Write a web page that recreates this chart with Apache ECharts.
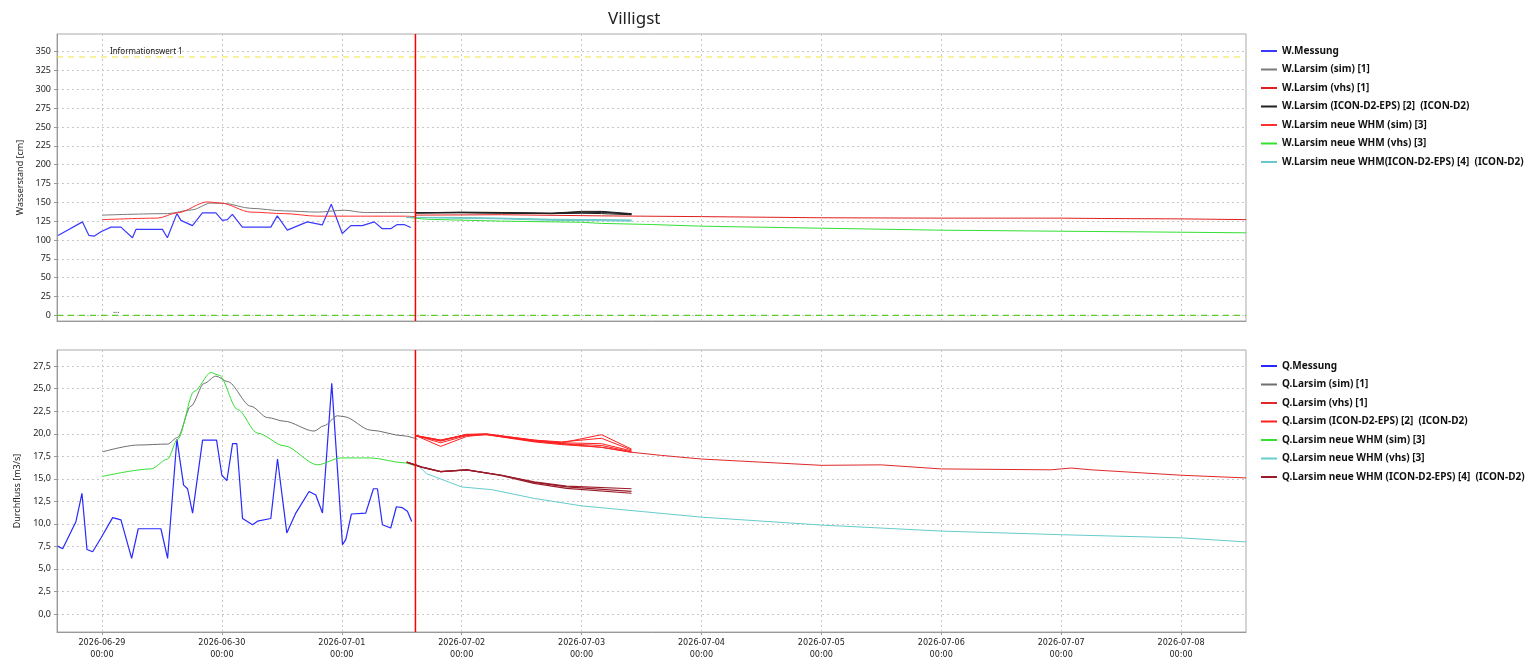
<!DOCTYPE html>
<html>
<head>
<meta charset="utf-8">
<title>Villigst</title>
<script src="https://cdn.jsdelivr.net/npm/echarts@6/dist/echarts.min.js"></script>
<style>
html,body{margin:0;padding:0;background:#fff;}
#chart{width:1540px;height:661px;}
</style>
</head>
<body>
<div id="chart"></div>
<script>
// Zeitachse: Stunden ab 2026-06-29 00:00
var T0 = new Date(2026, 5, 29, 0, 0).getTime();
var X_MIN_H = -9, X_MAX_H = 229;
var FORECAST_H = 62.75;
var DAY_TICKS_H = [0, 24, 48, 72, 96, 120, 144, 168, 192, 216];
var W_MIN = -7.6, W_MAX = 373.5;
var Q_MIN = -2, Q_MAX = 29.3;
var W_TICKS = [0, 25, 50, 75, 100, 125, 150, 175, 200, 225, 250, 275, 300, 325, 350];
var Q_TICKS = [0, 2.5, 5, 7.5, 10, 12.5, 15, 17.5, 20, 22.5, 25, 27.5];
var INFO_WERT_1 = 343;
var NULL_WERT = 0;

// Wasserstand [cm]  -  [stunde, wert]
var wMessung = [[-8.8,106],[-3.9,124],[-2.6,106],[-1.6,105],[-0.2,111],[1.8,117],[3.8,117],[6.1,103],[6.8,114],[12.1,114],[13.1,103],[15,135],[15.8,126],[18.1,119],[20.1,136],[22.8,136],[24.1,126],[25.1,127],[26.1,134],[28.1,117],[33.8,117],[35.1,132],[37.1,113],[41.1,124],[44.1,120],[45.9,147.5],[48.1,108.6],[49.8,119],[52.1,119],[54.5,124],[56.1,115],[57.8,115],[59.1,120.5],[60.5,120.5],[61.8,116.5]];
var wSim1 = [[0.1,133],[13.1,135],[18,140],[21.8,149],[24.5,148.5],[29.8,142],[36.5,138.6],[43.1,137],[48.5,139.5],[52.5,136.5],[62.8,136.5]];
var wVhs1 = [[62.8,133],[80,133.5],[100,132],[120,131],[144,129.5],[168,129],[192,129],[200,128.5],[216,128],[229,127]];
var wEps2 = [
  [[62.8,136],[72,136.5],[80,136],[90,135.5],[96,137],[100,137.5],[106,134]],
  [[62.8,136],[72,136],[80,135.5],[90,135],[96,135.5],[100,135],[106,133.5]],
  [[62.8,136],[72,136.5],[80,136],[90,135],[96,136],[100,136.5],[106,134.5]],
  [[62.8,136],[72,137],[80,136.5],[90,135.5],[96,138],[100,138],[106,135]]
];
var wNeueSim3 = [[0.1,127],[11.1,129],[15.1,136],[21.1,150.6],[23.8,149],[29.8,137],[36.5,135],[43.1,131.6],[60.5,131.6],[62.8,131]];
var wNeueVhs3 = [[61,130],[65,127.5],[80,125],[96,123.5],[100,122],[110,120.5],[120,118.3],[144,115.6],[168,113],[192,111.6],[216,110.3],[229,109.5]];
var wNeueEps4 = [
  [[61,130],[70,129.5],[80,128.5],[90,127],[100,126.5],[106,126]],
  [[61,130],[70,129],[80,128],[90,126],[100,125.5],[106,125]],
  [[61,130],[70,130],[80,129],[90,127.5],[100,127],[106,126.5]]
];

// Durchfluss [m3/s]
var qMessung = [[-8.86,7.53],[-7.86,7.24],[-5.2,10.27],[-4,13.4],[-3,7.16],[-1.86,6.9],[-0.2,8.44],[2.14,10.7],[3.8,10.45],[5.94,6.17],[7.26,9.46],[11.8,9.46],[13.14,6.17],[15,19.4],[16.34,14.3],[17.14,13.9],[18.14,11.2],[20.14,19.3],[22.94,19.3],[24,15.4],[25,14.8],[26.14,18.9],[27,18.9],[28.14,10.6],[30.14,9.9],[31.14,10.3],[33.8,10.6],[35.14,17.2],[37,9.0],[38.8,11.2],[41.46,13.6],[42.8,13.2],[44.14,11.2],[46,25.6],[48.14,7.7],[48.8,8.26],[49.94,11.1],[52.8,11.2],[54.34,13.9],[55.14,13.9],[56.14,9.9],[57.8,9.54],[58.94,11.9],[60.14,11.8],[61.14,11.4],[62,10.27]];
var qSim1 = [[0.14,18.0],[7.14,18.75],[13.14,18.86],[15.14,19.6],[17.8,23.06],[20.46,25.6],[22.8,26.4],[25.14,25.8],[29.8,23.06],[33.14,21.8],[36.46,21.4],[42.46,20.3],[44.46,20.9],[47.14,22.0],[48.46,21.9],[53.8,20.4],[60.46,19.77],[63.14,19.4]];
var qVhs1 = [[62.8,19.8],[67.8,19.3],[73,19.9],[77,19.95],[86.5,19.2],[92,18.9],[100,18.5],[106,17.95],[112,17.6],[120,17.2],[144,16.5],[156,16.55],[168,16.1],[190,16.0],[194,16.2],[198,16.0],[216,15.4],[229,15.1]];
var qEps2 = [
  [[62.8,19.8],[67.8,19.2],[73,19.95],[77,19.95],[86.5,19.3],[92,19.0],[100,19.9],[106,18.3]],
  [[62.8,19.8],[67.8,18.6],[73,19.7],[77,19.95],[86.5,19.2],[92,18.9],[100,18.7],[106,18.0]],
  [[62.8,19.8],[67.8,19.3],[73,19.9],[77,19.9],[86.5,19.1],[92,18.8],[100,18.5],[106,17.95]],
  [[62.8,19.8],[67.8,19.2],[73,19.9],[77,20.0],[86.5,19.3],[92,19.1],[100,19.5],[106,18.2]],
  [[62.8,19.8],[67.8,19.0],[73,19.8],[77,19.9],[86.5,19.2],[92,19.0],[100,18.9],[106,18.1]]
];
var qNeueSim3 = [[0.14,15.27],[9.8,16.1],[13.14,17.2],[15.14,19.4],[18.46,24.7],[21.8,26.8],[23.46,26.5],[27.14,22.7],[31.14,20.07],[36.46,18.67],[43.14,16.56],[47.8,17.32],[53.8,17.32],[60.46,16.78],[62.46,16.48]];
var qNeueVhs3 = [[62.8,16.7],[65,15.57],[72,14.1],[78,13.8],[86.5,12.83],[96,12.0],[120,10.75],[144,9.87],[168,9.2],[192,8.8],[216,8.45],[229,8.0]];
var qNeueEps4 = [
  [[61,16.85],[64,16.3],[67.8,15.8],[73,16.0],[80,15.4],[86.5,14.66],[93,14.2],[106,13.9]],
  [[61,16.85],[64,16.3],[67.8,15.8],[73,16.0],[80,15.4],[86.5,14.6],[93,14.1],[106,13.6]],
  [[61,16.85],[64,16.3],[67.8,15.8],[73,16.0],[80,15.35],[86.5,14.5],[93,13.95],[106,13.4]]
];

var W_NAMES = ['W.Messung','W.Larsim (sim) [1]','W.Larsim (vhs) [1]','W.Larsim (ICON-D2-EPS) [2]  (ICON-D2)','W.Larsim neue WHM (sim) [3]','W.Larsim neue WHM (vhs) [3]','W.Larsim neue WHM(ICON-D2-EPS) [4]  (ICON-D2)'];
var Q_NAMES = ['Q.Messung','Q.Larsim (sim) [1]','Q.Larsim (vhs) [1]','Q.Larsim (ICON-D2-EPS) [2]  (ICON-D2)','Q.Larsim neue WHM (sim) [3]','Q.Larsim neue WHM (vhs) [3]','Q.Larsim neue WHM (ICON-D2-EPS) [4]  (ICON-D2)'];

function pad(i){ return i < 10 ? '0' + i : '' + i; }
function toTime(h){ return T0 + h * 3600000; }
function toXY(arr){
    var out = [];
    for (var i = 0; i < arr.length; i++) out.push([toTime(arr[i][0]), arr[i][1]]);
    return out;
}
function fmtDate(v){
    var d = new Date(v);
    return d.getFullYear() + '-' + pad(d.getMonth() + 1) + '-' + pad(d.getDate()) + '\n' + pad(d.getHours()) + ':' + pad(d.getMinutes());
}

var chart = echarts.init(document.getElementById('chart'));
var dayTicks = DAY_TICKS_H.map(toTime);
var gridLine = {show: true, lineStyle: {color: '#c8c8c8', type: [2, 3], width: 1}};

var series = [];
function addLine(name, data, color, idx, width, smooth){
    series.push({
        name: name, type: 'line', xAxisIndex: idx, yAxisIndex: idx,
        data: toXY(data), color: color, symbol: 'none', showSymbol: false,
        smooth: smooth ? 0.3 : false, smoothMonotone: 'x',
        lineStyle: {width: width || 1, color: color}, z: 3
    });
}

// Hilfslinien (Schwellwerte, Vorhersagezeitpunkt) als eigene Reihen
function addRefLine(idx, data, color, dash, width, labelText, labelH){
    var s = {
        type: 'line', xAxisIndex: idx, yAxisIndex: idx, silent: true,
        data: toXY(data), color: color, symbol: 'none', showSymbol: false,
        lineStyle: {width: width, color: color, type: dash}, z: 4
    };
    if (labelText) {
        s.markPoint = {
            symbol: 'rect', symbolSize: 0, silent: true, animation: false,
            label: {show: true, formatter: labelText, position: 'right', color: '#111', fontSize: 8, fontFamily: 'Noto Sans, sans-serif', offset: [0, -5]},
            data: [{coord: [toTime(labelH[0]), labelH[1]]}]
        };
    }
    series.push(s);
}

// oberes Diagramm
addLine(W_NAMES[0], wMessung, '#3a3aff', 0, 1.2);
addLine(W_NAMES[1], wSim1, '#7a7a7a', 0, 1, true);
addLine(W_NAMES[2], wVhs1, '#e02020', 0, 1);
wEps2.forEach(function(m){ addLine(W_NAMES[3], m, '#202020', 0, 1); });
addLine(W_NAMES[4], wNeueSim3, '#ff3030', 0, 1, true);
addLine(W_NAMES[5], wNeueVhs3, '#33e033', 0, 1);
wNeueEps4.forEach(function(m){ addLine(W_NAMES[6], m, '#6cc8c8', 0, 1); });

// unteres Diagramm
addLine(Q_NAMES[0], qMessung, '#2828ff', 1, 1.2);
addLine(Q_NAMES[1], qSim1, '#6e6e6e', 1, 1, true);
addLine(Q_NAMES[2], qVhs1, '#e02828', 1, 1);
qEps2.forEach(function(m){ addLine(Q_NAMES[3], m, '#ff2020', 1, 1); });
addLine(Q_NAMES[4], qNeueSim3, '#33e033', 1, 1, true);
addLine(Q_NAMES[5], qNeueVhs3, '#66cccc', 1, 1);
qNeueEps4.forEach(function(m){ addLine(Q_NAMES[6], m, '#9a1c2a', 1, 1.2); });

addRefLine(0, [[X_MIN_H, INFO_WERT_1], [X_MAX_H, INFO_WERT_1]], '#f2e43a', [6, 5], 1, 'Informationswert 1', [0.6, INFO_WERT_1]);
addRefLine(0, [[X_MIN_H, NULL_WERT], [X_MAX_H, NULL_WERT]], '#5ccc2a', [6, 5], 1.2, '...', [1.2, NULL_WERT]);
addRefLine(0, [[FORECAST_H, W_MIN], [FORECAST_H, W_MAX]], '#ff0000', 'solid', 1.5);
addRefLine(1, [[FORECAST_H, Q_MIN], [FORECAST_H, Q_MAX]], '#ff0000', 'solid', 1.5);

function xAxisCfg(idx, showLabels){
    return {
        type: 'value', gridIndex: idx, min: toTime(X_MIN_H), max: toTime(X_MAX_H),
        axisLine: {show: true, onZero: false, lineStyle: {color: '#999'}},
        axisTick: {show: showLabels, customValues: dayTicks, length: 3, lineStyle: {color: '#999'}},
        axisLabel: {show: showLabels, customValues: dayTicks, formatter: fmtDate, fontSize: 9, color: '#222', lineHeight: 12, margin: 5, fontFamily: 'DejaVu Sans Condensed, Liberation Sans, sans-serif'},
        splitLine: Object.assign({customValues: dayTicks}, gridLine)
    };
}
function yAxisCfg(idx, name, min, max, ticks, fmt){
    return {
        type: 'value', gridIndex: idx, min: min, max: max, name: name,
        nameLocation: 'middle', nameGap: 32, nameRotate: 90,
        nameTextStyle: {fontSize: 9, color: '#222', fontFamily: 'Noto Sans, sans-serif'},
        axisLine: {show: true, onZero: false, lineStyle: {color: '#999'}},
        axisTick: {show: true, customValues: ticks, length: 3, lineStyle: {color: '#999'}},
        axisLabel: {customValues: ticks, formatter: fmt, fontSize: 9, color: '#222', margin: 6, fontFamily: 'Noto Sans, sans-serif'},
        splitLine: Object.assign({customValues: ticks}, gridLine)
    };
}

function legendCfg(top, names){
    return {
        orient: 'vertical', left: 1256, top: top, data: names,
        icon: 'rect', itemWidth: 16, itemHeight: 2, itemGap: 6.5,
        selectedMode: false,
        textStyle: {fontSize: 10, color: '#111', lineHeight: 12, fontWeight: 'bold', fontFamily: 'Noto Sans, sans-serif'}
    };
}

chart.setOption({
    animation: false,
    backgroundColor: '#fff',
    title: {text: 'Villigst', left: 603, top: 6, textStyle: {fontSize: 17, fontWeight: 'normal', color: '#222', fontFamily: 'Noto Sans, sans-serif'}},
    legend: [legendCfg(40, W_NAMES), legendCfg(355, Q_NAMES)],
    grid: [
        {left: 57, top: 34, width: 1189, height: 287, show: true, borderColor: '#aaa', borderWidth: 1},
        {left: 57, top: 350, width: 1189, height: 286, show: true, borderColor: '#aaa', borderWidth: 1}
    ],
    xAxis: [xAxisCfg(0, false), xAxisCfg(1, true)],
    yAxis: [
        yAxisCfg(0, 'Wasserstand [cm]', W_MIN, W_MAX, W_TICKS, function(v){ return '' + v; }),
        yAxisCfg(1, 'Durchfluss [m3/s]', Q_MIN, Q_MAX, Q_TICKS, function(v){ return v.toFixed(1).replace('.', ','); })
    ],
    series: series
});
</script>
</body>
</html>
